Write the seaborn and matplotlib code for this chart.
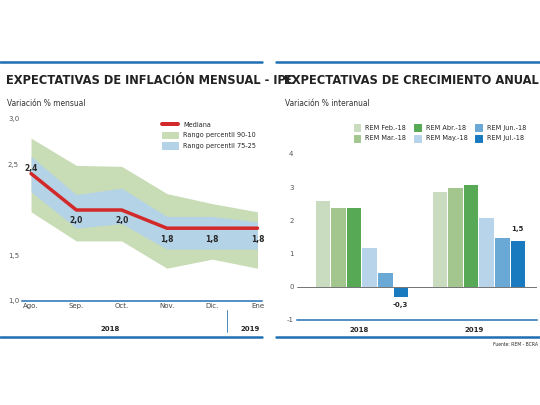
import numpy as np
import pandas as pd
import seaborn as sns
import matplotlib.pyplot as plt
from matplotlib.patches import Patch
from matplotlib.lines import Line2D

sns.set_style("white")
plt.rcParams['font.family'] = ['Liberation Sans Narrow', 'DejaVu Sans']

# --- data: inflation expectations ---
months = ["Ago.", "Sep.", "Oct.", "Nov.", "Dic.", "Ene"]
mediana = [2.4, 2.0, 2.0, 1.8, 1.8, 1.8]
p90 = [2.79, 2.49, 2.48, 2.18, 2.07, 1.98]
p10 = [1.98, 1.66, 1.66, 1.36, 1.46, 1.36]
p75 = [2.59, 2.17, 2.24, 1.93, 1.93, 1.87]
p25 = [2.20, 1.80, 1.85, 1.57, 1.57, 1.57]

# --- data: growth expectations ---
years = ["2018", "2019"]
surveys = ["REM Feb.-18", "REM Mar.-18", "REM Abr.-18",
           "REM May.-18", "REM Jun.-18", "REM Jul.-18"]
growth_2018 = [2.6, 2.4, 2.4, 1.2, 0.45, -0.3]
growth_2019 = [2.9, 3.0, 3.1, 2.1, 1.5, 1.4]
bar_colors = ["#c9dcbf", "#a2c68d", "#58a955", "#b8d4ea", "#6aa9d5", "#1a7abf"]

W, H = 540, 405
fig = plt.figure(figsize=(W / 72, H / 72), dpi=72)
blue = "#1f6fb2"

def fx(px): return px / W
def fy(py): return 1 - py / H

# frame lines
for x0, x1 in [(0, 262), (276, 540)]:
    fig.add_artist(Line2D([fx(x0), fx(x1)], [fy(62), fy(62)], color=blue, lw=2.5))
    fig.add_artist(Line2D([fx(x0), fx(x1)], [fy(337), fy(337)], color=blue, lw=2.5))

fig.text(fx(6), fy(80), "EXPECTATIVAS DE INFLACIÓN MENSUAL - IPC", fontsize=11.5,
         fontweight="bold", va="center", color="#222222")
fig.text(fx(284), fy(80), "EXPECTATIVAS DE CRECIMIENTO ANUAL", fontsize=11.5,
         fontweight="bold", va="center", color="#222222")
fig.text(fx(7), fy(103), "Variación % mensual", fontsize=7.5, va="center", color="#333333")
fig.text(fx(285), fy(103), "Variación % interanual", fontsize=7.5, va="center", color="#333333")
fig.text(fx(538), fy(344), "Fuente: REM - BCRA", fontsize=4.5, ha="right", va="center")

# --- left panel ---
ax1 = fig.add_axes([fx(22), fy(301), fx(240), (301 - 119) / H])
x = np.arange(len(months))
ax1.fill_between(x, p10, p90, color="#c8dcb6", lw=0)
ax1.fill_between(x, p25, p75, color="#b5d3e6", lw=0)
sns.lineplot(x=x, y=mediana, ax=ax1, color="#d22a2a", lw=3.5)
for i, v in enumerate(mediana):
    off = 0.06 if i == 0 else -0.12
    ax1.text(i, v + off, f"{v:.1f}".replace(".", ","), ha="center", va="center",
             fontsize=7.5, fontweight="bold")
ax1.set_xlim(-0.2, 5.1)
ax1.set_ylim(1.0, 3.0)
ax1.set_yticks([1.0, 1.5, 2.5, 3.0])
ax1.set_yticklabels(["1,0", "1,5", "2,5", "3,0"], fontsize=7, color="#555555")
ax1.set_xticks(x)
ax1.set_xticklabels(months, fontsize=7, color="#444444")
ax1.tick_params(length=0, pad=2)
for s in ["top", "right", "left"]:
    ax1.spines[s].set_visible(False)
ax1.spines["bottom"].set_color(blue)
ax1.spines["bottom"].set_linewidth(1.5)
for lab in ax1.get_yticklabels():
    lab.set_horizontalalignment("left")
ax1.tick_params(axis="y", pad=14)
ax1.legend(handles=[Line2D([], [], color="#d22a2a", lw=4),
                    Patch(color="#c8dcb6"), Patch(color="#b5d3e6")],
           labels=["Mediana", "Rango percentil 90-10", "Rango percentil 75-25"],
           loc="upper right", bbox_to_anchor=(1.0, 1.02), frameon=False,
           fontsize=6.5, handlelength=2.5, handleheight=1.2, labelspacing=0.6)
fig.text(fx(110), fy(329), "2018", fontsize=7, fontweight="bold", ha="center", va="center")
fig.text(fx(250), fy(329), "2019", fontsize=7, fontweight="bold", ha="center", va="center")
fig.add_artist(Line2D([fx(227), fx(227)], [fy(310), fy(332)], color=blue, lw=0.8))

# --- right panel ---
df = pd.DataFrame({
    "year": np.repeat(years, len(surveys)),
    "survey": surveys * 2,
    "value": growth_2018 + growth_2019,
})
ax2 = fig.add_axes([fx(297), fy(320), fx(240), (320 - 154) / H])
sns.barplot(data=df, x="year", y="value", hue="survey", palette=bar_colors,
            ax=ax2, width=0.8, saturation=1, legend=False)
ax2.axhline(0, color="#555555", lw=0.8)
ax2.set_xlim(-0.55, 1.5)
ax2.set_ylim(-1, 4)
ax2.set_yticks([-1, 0, 1, 2, 3, 4])
ax2.set_yticklabels(["-1", "0", "1", "2", "3", "4"], fontsize=7, color="#555555")
ax2.set_xticks([])
ax2.set_xlabel("")
ax2.set_ylabel("")
ax2.tick_params(length=0)
for s in ["top", "right", "left"]:
    ax2.spines[s].set_visible(False)
ax2.spines["bottom"].set_color(blue)
ax2.spines["bottom"].set_linewidth(1.5)
ax2.text(0.333, -0.55, "-0,3", ha="center", va="center", fontsize=7, fontweight="bold")
ax2.text(1.333, 1.75, "1,5", ha="center", va="center", fontsize=7, fontweight="bold")
fig.text(fx(359), fy(330), "2018", fontsize=7, fontweight="bold", ha="center", va="center")
fig.text(fx(474), fy(330), "2019", fontsize=7, fontweight="bold", ha="center", va="center")
handles = [Patch(color=c) for c in bar_colors]
fig.legend(handles=handles, labels=surveys, ncol=3, loc="center",
           bbox_to_anchor=(fx(440), fy(133)), frameon=False, fontsize=6.5,
           handlelength=1.0, handleheight=1.3, columnspacing=1.2, labelspacing=0.5)

fig.savefig("out.png", dpi=72)
